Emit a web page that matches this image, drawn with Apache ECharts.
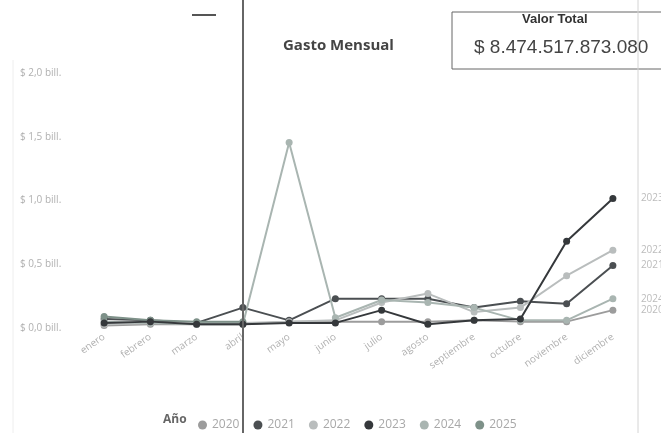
<!DOCTYPE html>
<html>
<head>
<meta charset="utf-8">
<script src="https://cdn.jsdelivr.net/npm/echarts@6/dist/echarts.min.js"></script>
<style>
  html, body { margin: 0; padding: 0; background: #fff; }
  #chart { width: 661px; height: 433px; }
</style>
</head>
<body>
<div id="chart"></div>
<script>
// meses del eje x
const meses = ['enero', 'febrero', 'marzo', 'abril', 'mayo', 'junio', 'julio', 'agosto', 'septiembre', 'octubre', 'noviembre', 'diciembre']
const anios = ['2020', '2021', '2022', '2023', '2024', '2025']

// gasto mensual en billones
const gasto2020 = [0.02, 0.03, 0.03, 0.03, 0.05, 0.05, 0.05, 0.05, 0.06, 0.05, 0.05, 0.14]
const gasto2021 = [0.07, 0.06, 0.04, 0.16, 0.06, 0.23, 0.23, 0.23, 0.16, 0.21, 0.19, 0.49]
const gasto2022 = [0.03, 0.04, 0.04, 0.04, 0.05, 0.06, 0.20, 0.27, 0.125, 0.16, 0.41, 0.61]
const gasto2023 = [0.04, 0.05, 0.03, 0.03, 0.04, 0.04, 0.14, 0.03, 0.06, 0.07, 0.68, 1.016]
const gasto2024 = [0.05, 0.04, 0.03, 0.03, 1.455, 0.08, 0.22, 0.20, 0.16, 0.06, 0.06, 0.23]
const gasto2025 = [0.09, 0.06, 0.05, 0.05, null, null, null, null, null, null, null, null]

const ticksY = [0, 0.5, 1.0, 1.5, 2.0]
const valorTotal = '$ 8.474.517.873.080'

const colores = ['#9c9c9c', '#4b4f52', '#b9bdbd', '#35383b', '#a9b5b1', '#7e9189']
const datos = [gasto2020, gasto2021, gasto2022, gasto2023, gasto2024, gasto2025]

const chart = echarts.init(document.getElementById('chart'))

const series = anios.map((a, i) => ({
  name: a,
  type: 'line',
  data: datos[i],
  symbol: 'circle',
  symbolSize: 7,
  color: colores[i],
  lineStyle: { width: 2 },
  z: i === 3 ? 5 : 2,
  endLabel: {
    show: a !== '2025',
    formatter: '{a}',
    color: '#bcbcbc',
    fontSize: 10,
    distance: 28
  }
}))

const option = {
  backgroundColor: '#fff',
  animation: false,
  textStyle: { fontFamily: 'Open Sans, Noto Sans, sans-serif' },
  grid: { left: 81, right: 25, top: 73, bottom: 105 },
  xAxis: {
    type: 'category',
    data: meses,
    boundaryGap: true,
    axisLine: { show: false },
    axisTick: { show: false },
    axisLabel: { rotate: 35, color: '#b0b0b0', fontSize: 10, margin: 8, interval: 0 }
  },
  yAxis: {
    type: 'value',
    min: ticksY[0],
    max: ticksY[ticksY.length - 1],
    interval: 0.5,
    splitLine: { show: false },
    axisLabel: {
      color: '#b0b0b0',
      fontSize: 10,
      align: 'left',
      margin: 61,
      formatter: v => '$ ' + v.toFixed(1).replace('.', ',') + ' bill.'
    }
  },
  legend: {
    data: anios,
    left: 193,
    top: 414,
    icon: 'circle',
    itemWidth: 9,
    itemHeight: 9,
    itemGap: 14,
    textStyle: { color: '#a8a8a8', fontSize: 12 }
  },
  graphic: [
    { type: 'text', x: 163, y: 414, style: { text: 'Año', fill: '#666', font: 'bold 12px Open Sans' } },
    { type: 'text', x: 283, y: 38, style: { text: 'Gasto Mensual', fill: '#444', font: 'bold 15px Open Sans' } },
    { type: 'rect', shape: { x: 452, y: 12, width: 230, height: 57 }, style: { fill: 'none', stroke: '#666', lineWidth: 1 } },
    { type: 'text', x: 522, y: 13, style: { text: 'Valor Total', fill: '#333', font: 'bold 13px Liberation Sans' } },
    { type: 'text', x: 474, y: 38, style: { text: valorTotal, fill: '#444', font: '19px Liberation Sans' } },
    { type: 'line', shape: { x1: 192, y1: 15, x2: 216, y2: 15 }, style: { stroke: '#555', lineWidth: 2 } },
    { type: 'line', shape: { x1: 243, y1: 0, x2: 243, y2: 433 }, style: { stroke: '#666', lineWidth: 2 }, z: 100 },
    { type: 'line', shape: { x1: 638, y1: 0, x2: 638, y2: 433 }, style: { stroke: '#d4d4d4', lineWidth: 1 } },
    { type: 'line', shape: { x1: 13, y1: 60, x2: 13, y2: 433 }, style: { stroke: '#eee', lineWidth: 1 } }
  ],
  series: series
}

chart.setOption(option)
</script>
</body>
</html>
